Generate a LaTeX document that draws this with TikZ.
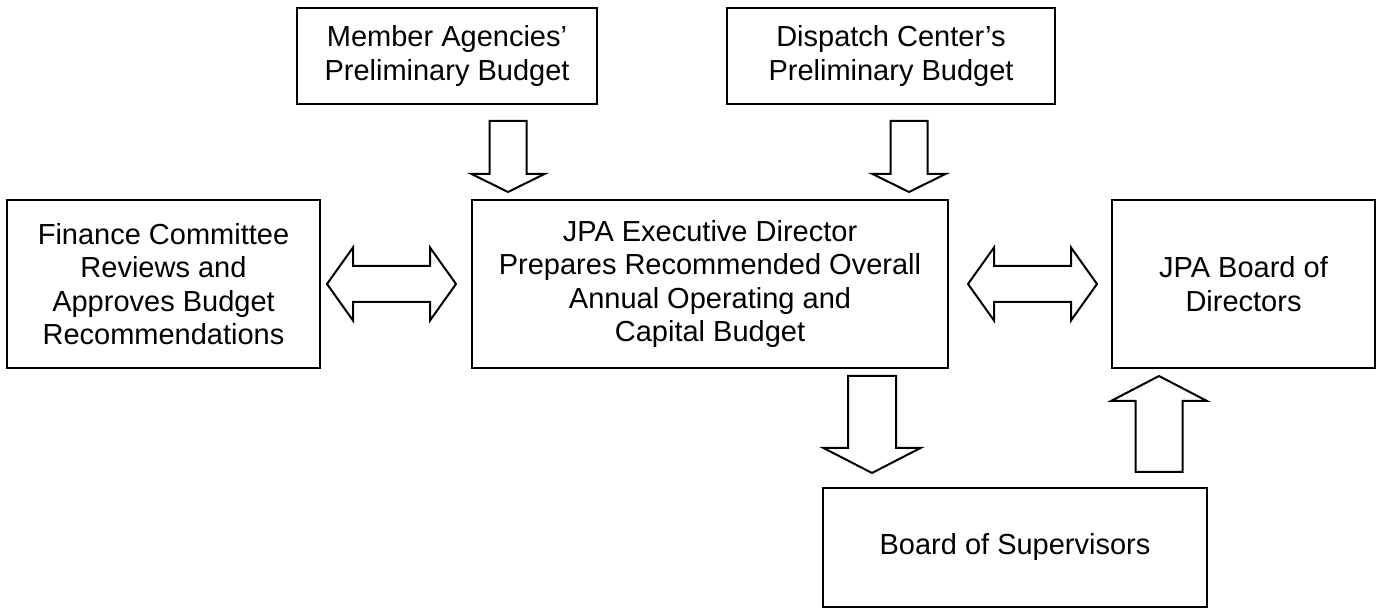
\documentclass[tikz,border=0pt]{standalone}
\usepackage{fontspec}
\setmainfont{Liberation Sans}
\usetikzlibrary{calc}
\tikzset{
  box/.style={draw, line width=2pt, align=center, inner sep=0pt, outer sep=0pt,
    font=\fontsize{29}{33.4}\selectfont},
  blk/.style={draw, line width=2pt, fill=white, line join=miter},
}
% single block arrow: start, end, shaft half width, head half width, head length
\newcommand\blockarrow[5]{%
  \path let \p1=(#1), \p2=(#2) in \pgfextra{%
    \pgfmathparse{atan2(\y2-\y1,\x2-\x1)}\xdef\BAang{\pgfmathresult}%
    \pgfmathparse{veclen(\x2-\x1,\y2-\y1)}\xdef\BAlen{\pgfmathresult}};
  \begin{scope}[shift={(#1)}, rotate=\BAang, x=1pt, y=1pt]
    \draw[blk] (0,-#3) -- ({\BAlen-#5},-#3) -- ({\BAlen-#5},-#4) -- (\BAlen,0)
      -- ({\BAlen-#5},#4) -- ({\BAlen-#5},#3) -- (0,#3) -- cycle;
  \end{scope}}
% double block arrow
\newcommand\dblockarrow[5]{%
  \path let \p1=(#1), \p2=(#2) in \pgfextra{%
    \pgfmathparse{atan2(\y2-\y1,\x2-\x1)}\xdef\BAang{\pgfmathresult}%
    \pgfmathparse{veclen(\x2-\x1,\y2-\y1)}\xdef\BAlen{\pgfmathresult}};
  \begin{scope}[shift={(#1)}, rotate=\BAang, x=1pt, y=1pt]
    \draw[blk] (0,0) -- (#5,#4) -- (#5,#3) -- ({\BAlen-#5},#3) -- ({\BAlen-#5},#4)
      -- (\BAlen,0) -- ({\BAlen-#5},-#4) -- ({\BAlen-#5},-#3) -- (#5,-#3)
      -- (#5,-#4) -- cycle;
  \end{scope}}
\begin{document}
\begin{tikzpicture}[x=1pt, y=-1pt]
\useasboundingbox (0,0) rectangle (1377,609);

\node[box, minimum width=300, minimum height=96] (member) at (447,56)
  {Member Agencies’\\Preliminary Budget};
\node[box, minimum width=328, minimum height=96] (dispatch) at (891,56)
  {Dispatch Center’s\\Preliminary Budget};
\node[box, minimum width=313, minimum height=168] (finance) at (163.5,284)
  {Finance Committee\\Reviews and\\Approves Budget\\Recommendations};
\node[box, minimum width=476, minimum height=168] (exec) at (710,284)
  {JPA Executive Director\\Prepares Recommended Overall\\Annual Operating and\\Capital Budget};
\node[box, minimum width=263, minimum height=168] (board) at (1243.5,284)
  {JPA Board of\\Directors};
\node[box, minimum width=384, minimum height=119] (sup) at (1015,547.5)
  {Board of Supervisors};

\coordinate (a1s) at ($(member.south)+(61,17)$);
\coordinate (a1e) at ($(exec.north)+(-202,-8)$);
\coordinate (a2s) at ($(dispatch.south)+(18,17)$);
\coordinate (a2e) at ($(exec.north)+(199,-8)$);
\coordinate (a3s) at ($(finance.east)+(7,0)$);
\coordinate (a3e) at ($(exec.west)+(-16,0)$);
\coordinate (a4s) at ($(exec.east)+(20,0)$);
\coordinate (a4e) at ($(board.west)+(-15,0)$);
\coordinate (a5s) at ($(exec.south)+(162,8)$);
\coordinate (a5e) at ($(sup.north)+(-143,-15)$);
\coordinate (a6s) at ($(sup.north)+(144,-16)$);
\coordinate (a6e) at ($(board.south)+(-84.5,8)$);

\blockarrow{a1s}{a1e}{18.5}{36.5}{18}
\blockarrow{a2s}{a2e}{18.5}{36.5}{18}
\dblockarrow{a3s}{a3e}{18}{36.5}{26}
\dblockarrow{a4s}{a4e}{18}{36.5}{26}
\blockarrow{a5s}{a5e}{24}{48.5}{25}
\blockarrow{a6s}{a6e}{23.5}{48}{25}
\end{tikzpicture}
\end{document}
